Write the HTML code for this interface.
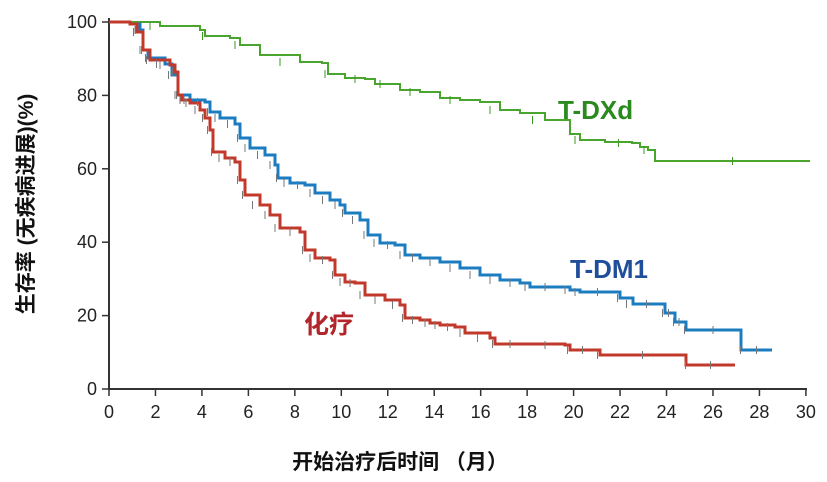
<!DOCTYPE html>
<html><head><meta charset="utf-8"><style>
html,body{margin:0;padding:0;background:#fff;}
svg{display:block;font-family:"Liberation Sans","Noto Sans CJK SC",sans-serif;}
</style></head><body>
<svg id="s" width="827" height="482" viewBox="0 0 827 482" xmlns="http://www.w3.org/2000/svg">
<g stroke="#333" stroke-width="2" fill="none">
<line x1="109" y1="18" x2="109" y2="390"/>
<line x1="108" y1="389" x2="807" y2="389"/>
</g>
<g id="ticks" stroke="#333" stroke-width="1.5"></g>
<g id="labels" font-size="18" fill="#222"></g>
<g id="curves" fill="none" stroke-linejoin="miter"></g>
<text x="558" y="119" font-size="26" font-weight="bold" fill="#2b8a1e">T-DXd</text>
<text x="570" y="278" font-size="26" font-weight="bold" fill="#1f4e9a">T-DM1</text>
<text x="304" y="333" font-size="25" font-weight="bold" fill="#b2262b">化疗</text>
<text transform="translate(33,204) rotate(-90)" text-anchor="middle" font-size="21" font-weight="bold" fill="#111">生存率 (无疾病进展)(%)</text>
<text x="400" y="469" text-anchor="middle" font-size="21" font-weight="bold" fill="#111">开始治疗后时间 （月）</text>
</svg>
<script>
var NS="http://www.w3.org/2000/svg";
function el(p,t,a,txt){var e=document.createElementNS(NS,t);for(var k in a)e.setAttribute(k,a[k]);if(txt!=null)e.textContent=txt;p.appendChild(e);return e;}
var tk=document.getElementById('ticks'),lb=document.getElementById('labels');
for(var i=0;i<=15;i++){var x=109+i*2*23.23;el(tk,'line',{x1:x,y1:389,x2:x,y2:396});el(lb,'text',{x:x,y:418,'text-anchor':'middle'},String(i*2));}
for(var j=0;j<=5;j++){var y=389-j*20*3.67;el(tk,'line',{x1:102,y1:y,x2:109,y2:y});el(lb,'text',{x:97,y:y+6,'text-anchor':'end'},String(j*20));}
function steps(p){var d='M'+p[0][0]+','+p[0][1];for(var i=1;i<p.length;i++){d+=' H'+p[i][0]+' V'+p[i][1];}return d;}
var g=[[109,22],[140,22],[160,26],[200,30],[205,36],[230,38],[240,45],[260,55],[300,62],[322,63],[328,74],[345,78],[365,79],[375,84],[385,84],[400,90],[420,92],[440,98],[460,100],[480,102],[500,110],[520,113],[545,120],[570,134],[580,140],[605,142],[632,143],[640,147],[648,150],[655,161],[810,161]];
var b=[[109,22],[130,24],[140,30],[143,50],[148,58],[165,64],[172,75],[178,95],[190,100],[205,102],[210,112],[220,118],[235,124],[240,138],[250,148],[265,155],[275,165],[278,178],[290,183],[305,185],[315,193],[330,200],[340,205],[345,213],[360,220],[368,235],[380,243],[395,245],[405,255],[420,258],[440,262],[460,268],[480,275],[500,280],[520,283],[530,287],[560,287],[570,290],[580,292],[615,292],[620,298],[633,304],[660,304],[665,313],[672,313],[675,322],[683,322],[686,330],[740,330],[741,350],[772,350]];
var r=[[109,22],[130,24],[137,32],[143,50],[150,60],[170,65],[175,72],[178,95],[182,100],[190,103],[200,110],[205,118],[210,130],[213,152],[225,158],[235,162],[240,180],[245,195],[260,205],[270,215],[280,228],[300,232],[305,250],[315,258],[330,260],[335,275],[345,282],[355,283],[365,295],[385,300],[400,305],[405,318],[420,320],[430,323],[440,325],[455,327],[465,333],[490,338],[495,344],[525,344],[565,345],[570,350],[595,350],[600,355],[685,355],[686,365],[735,365]];
var c=document.getElementById('curves');
el(c,'path',{d:steps(g),stroke:'#4aa52e','stroke-width':2});
el(c,'path',{d:steps(b),stroke:'#1c7cc0','stroke-width':3});
el(c,'path',{d:steps(r),stroke:'#c0392b','stroke-width':3});
function cens(p,col,n){for(var i=1;i<p.length-1;i+=n){var x=(p[i][0]+p[i+1][0])/2,y=p[i+1][1];el(c,'line',{x1:x,y1:y-4,x2:x,y2:y+4,stroke:col,'stroke-width':1});}}
cens(g,'#3a9a22',2);cens(b,'#777',1);cens(r,'#777',1);
</script>
</body></html>
